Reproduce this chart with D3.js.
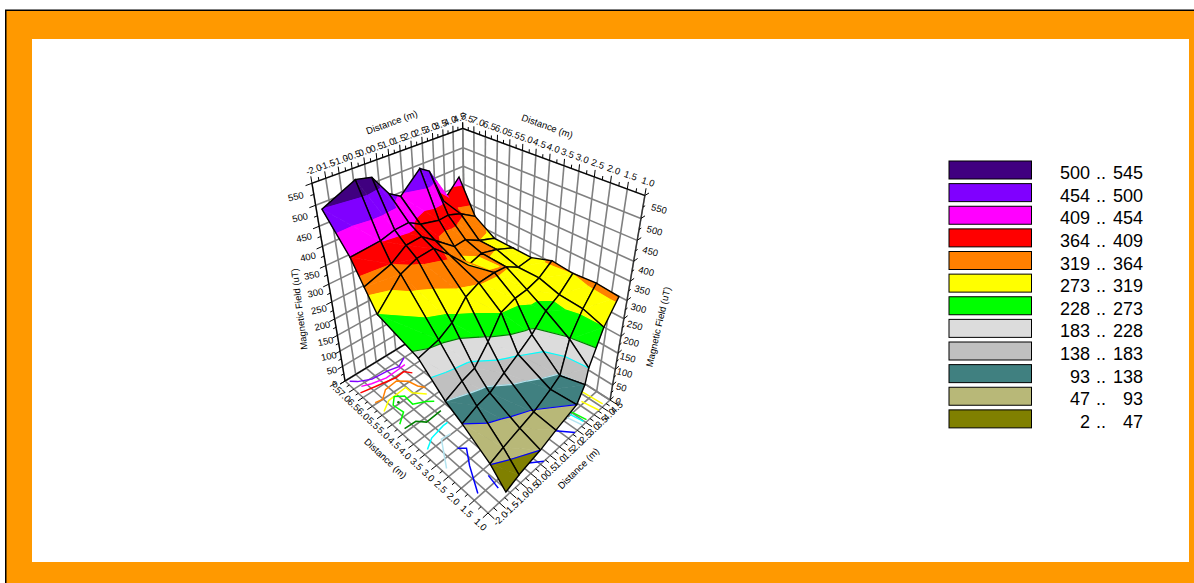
<!DOCTYPE html>
<html>
<head>
<meta charset="utf-8">
<script src="https://cdn.jsdelivr.net/npm/d3@7"></script>
<style>
  html, body { margin: 0; padding: 0; background: #ffffff; }
  svg { display: block; }
  text { font-family: "Liberation Sans", Arial, sans-serif; fill: #000000; }
</style>
</head>
<body>
<svg id="chart" width="1194" height="583"></svg>
<script>

// Legend bands, top to bottom
var bandLows    = [500, 454, 409, 364, 319, 273, 228, 183, 138, 93, 47, 2];
var bandHighs   = [545, 500, 454, 409, 364, 319, 273, 228, 183, 138, 93, 47];
var bandColours = ["#400080", "#8000ff", "#ff00ff", "#ff0000", "#ff8000", "#ffff00",
                   "#00ff00", "#dcdcdc", "#c0c0c0", "#408080", "#b8b878", "#808000"];

// Contour levels on the surface, and the colour of the line at each
var levels       = [500, 454, 409, 364, 319, 273, 228, 183, 138, 93, 47];
var levelColours = ["#8000ff", "#ff00ff", "#ff0000", "#ff8000", "#ffff00", "#00ff00",
                    "#008000", "#00ffff", "#b4e4f0", "#0000ff", "#0000ff"];

// Axis ticks
var xTicks = d3.range(-2, 4.51, 0.5);
var yTicks = d3.range(1, 7.51, 0.5);
var zTicks = d3.range(0, 551, 50);

// Mesh nodes
var xFront = [-1.16, -0.56, 0.46, 1.22, 2.28, 2.62, 2.71, 3.28, 3.93];
var xMid   = [-1.03, -0.38, 0.21, 0.86, 1.51, 2.16, 2.81, 3.46, 4.11];
var xBack  = [-2.00, -0.64, 0.02, 0.67, 1.19, 2.16, 2.62, 3.30, 4.16];
var yLeft  = [1.03, 1.67, 2.79, 3.30, 4.19, 5.75, 6.04, 6.33, 7.19];
var yRight = [1.00, 1.78, 2.63, 3.41, 4.19, 4.97, 5.77, 6.66, 7.41];

// Magnetic field (uT) at each node
var fieldRows = [
  [ 10,  28,  47,  68,  93, 138, 183, 273, 330],
  [ 48,  62,  77,  90, 117, 135, 225, 285, 330],
  [ 93, 115, 127, 158, 186, 217, 260, 283, 320],
  [138, 160, 170, 218, 275, 288, 290, 300, 325],
  [220, 235, 258, 305, 322, 325, 322, 300, 305],
  [273, 350, 375, 385, 355, 305, 325, 319, 305],
  [340, 365, 395, 400, 375, 335, 340, 320, 305],
  [409, 412, 420, 420, 400, 385, 385, 370, 340],
  [500, 535, 525, 470, 450, 498, 481, 384, 430]
];

// Contour lines on the floor, [x, y] in metres
var floorPurple  = [[-1.88, 7.38], [-1.67, 7.19], [-1.19, 6.95], [-0.48, 6.89], [-0.02, 6.78], [0.44, 6.99]];
var floorMagenta = [[-1.71, 6.93], [-1.35, 6.79], [-0.75, 6.66], [-0.11, 6.69], [0.23, 6.72]];
var floorRed     = [[-1.93, 6.72], [-1.30, 6.60], [-0.46, 6.45], [-0.05, 6.49], [0.15, 6.24]];
var floorOrange  = [[-1.82, 6.06], [-1.53, 6.00], [-1.15, 6.27], [-0.57, 6.32], [-0.25, 6.04], [-0.15, 5.67], [0.01, 5.44]];
var floorYellowA = [[-1.84, 5.58], [-1.40, 5.83], [-0.53, 5.89], [-0.53, 5.57], [-0.17, 5.20]];
var floorYellowB = [[4.09, 1.92], [4.15, 1.07]];
var floorYellowC = [[3.69, 1.59], [3.80, 1.00]];
var floorLimeA   = [[-0.20, 4.81], [-0.43, 4.98], [-0.87, 5.19], [-0.83, 5.63], [-1.13, 5.84], [-1.42, 5.58], [-1.35, 5.14], [-1.80, 4.85]];
var floorLimeB   = [[3.00, 1.65], [3.12, 1.05]];
var floorGreen   = [[-1.80, 4.62], [-1.30, 4.60], [-1.05, 4.35], [-0.33, 4.38]];
var floorCyanA   = [[-1.80, 3.58], [-1.38, 3.80], [-0.73, 3.90], [-0.52, 3.90]];
var floorCyanB   = [[2.87, 1.65], [2.98, 1.07]];
var floorPaleA   = [[-1.84, 2.73], [-1.17, 3.57], [-0.79, 3.53]];
var floorPaleB   = [[2.68, 1.59], [2.82, 1.02]];
var floorBlueA   = [[-1.03, 3.01], [-0.81, 2.83], [-1.22, 2.35], [-1.75, 1.58]];
var floorBlueB   = [[-1.04, 1.77], [-1.15, 1.31]];
var floorBlueC   = [[1.93, 1.45], [2.37, 1.00]];
var floorBlueD   = [[0.20, 1.29], [0.67, 1.00]];
var floorSpot    = [-1.19, 5.56];

var floorContours = [
  [floorPurple, "#8000ff"], [floorMagenta, "#ff00ff"], [floorRed, "#ff0000"], [floorOrange, "#ff8000"],
  [floorYellowA, "#ffff00"], [floorYellowB, "#ffff00"], [floorYellowC, "#ffff00"],
  [floorLimeA, "#00ff00"], [floorLimeB, "#00ff00"], [floorGreen, "#008000"],
  [floorCyanA, "#00ffff"], [floorCyanB, "#00ffff"], [floorPaleA, "#b4e4f0"], [floorPaleB, "#b4e4f0"],
  [floorBlueA, "#0000ff"], [floorBlueB, "#0000ff"], [floorBlueC, "#0000ff"], [floorBlueD, "#0000ff"]
];

var svg = d3.select("#chart");

// Frame
svg.append("rect").attr("x", 5).attr("y", 9.5).attr("width", 1189).attr("height", 574).attr("fill", "#000000");
svg.append("rect").attr("x", 6.5).attr("y", 11).attr("width", 1188).attr("height", 572).attr("fill", "#ff9900");
svg.append("rect").attr("x", 32).attr("y", 39).attr("width", 1157).attr("height", 523).attr("fill", "#ffffff");

// Data to unit cube
var xScale = d3.scaleLinear().domain([-2, 4.5]).range([0, 1]);
var yScale = d3.scaleLinear().domain([1, 7.5]).range([0, 1]);
var zScale = d3.scaleLinear().domain([0, 550]).range([0, 1]);

/*
 * Perspective view of the unit cube, set up from the image of its
 * nearest floor corner and the vanishing points of its three axes.
 */
var corner  = [488, 513];
var vanishU = [1189, -136];
var vanishV = [-189, -112];
var vanishT = [478, 1176];
var weightU = 0.2108;
var weightV = 0.2677;
var weightT = -0.2525;

function project(u, v, t) {
  var w = 1 + weightU * u + weightV * v + weightT * t;
  return [
    (corner[0] + weightU * u * vanishU[0] + weightV * v * vanishV[0] + weightT * t * vanishT[0]) / w,
    (corner[1] + weightU * u * vanishU[1] + weightV * v * vanishV[1] + weightT * t * vanishT[1]) / w
  ];
}

function projectData(p) {
  return project(xScale(p.x), yScale(p.y), zScale(p.z));
}

function projectFloor(p) {
  return project(xScale(p[0]), yScale(p[1]), 0);
}

var line       = d3.line();
var closedLine = d3.line().curve(d3.curveLinearClosed);

function drawLine(parent, from, to, colour, width) {
  parent.append("path")
    .attr("d", line([from, to]))
    .attr("fill", "none")
    .attr("stroke", colour)
    .attr("stroke-width", width);
}

// Walls and floor grid
var grid = svg.append("g");
var gridColour = "#808080";
var gridWidth  = 1.6;

xTicks.forEach(function(x) {
  var u = xScale(x);
  drawLine(grid, project(u, 0, 0), project(u, 1, 0), gridColour, gridWidth);
  drawLine(grid, project(u, 1, 0), project(u, 1, 1), gridColour, gridWidth);
});
yTicks.forEach(function(y) {
  var v = yScale(y);
  drawLine(grid, project(0, v, 0), project(1, v, 0), gridColour, gridWidth);
  drawLine(grid, project(1, v, 0), project(1, v, 1), gridColour, gridWidth);
});
zTicks.forEach(function(z) {
  var t = zScale(z);
  drawLine(grid, project(0, 1, t), project(1, 1, t), gridColour, gridWidth);
  drawLine(grid, project(1, 1, t), project(1, 0, t), gridColour, gridWidth);
});

// Box edges
var edgeWidth = 1.2;
drawLine(grid, project(0, 1, 1), project(1, 1, 1), "#000000", edgeWidth);
drawLine(grid, project(1, 1, 1), project(1, 0, 1), "#000000", edgeWidth);
drawLine(grid, project(0, 1, 0), project(0, 1, 1), "#000000", edgeWidth);
drawLine(grid, project(1, 0, 0), project(1, 0, 1), "#333333", edgeWidth);
drawLine(grid, project(0, 1, 0), project(1, 1, 0), "#000000", edgeWidth);

// Tick marks. Major ticks on the labelled values, minor ones between.
var ticks = svg.append("g");

function drawTicks(values, step, mark) {
  values.forEach(function(val, i) {
    mark(val, 1);
    if (i < values.length - 1) { mark(val + step / 2, 0.55); }
  });
}

drawTicks(xTicks, 0.5, function(x, len) {
  var u = xScale(x);
  drawLine(ticks, project(u, 1, 1), project(u, 1, 1 + 0.028 * len), "#000000", 1);
  drawLine(ticks, project(u, 0, 0), project(u, -0.035 * len, 0), "#000000", 1);
});
drawTicks(yTicks, 0.5, function(y, len) {
  var v = yScale(y);
  drawLine(ticks, project(1, v, 1), project(1, v, 1 + 0.028 * len), "#000000", 1);
  drawLine(ticks, project(0, v, 0), project(-0.035 * len, v, 0), "#000000", 1);
});
drawTicks(zTicks, 50, function(z, len) {
  var t = zScale(z);
  drawLine(ticks, project(0, 1, t), project(-0.035 * len, 1, t), "#000000", 1);
  drawLine(ticks, project(1, 0, t), project(1 + 0.035 * len, 0, t), "#000000", 1);
});

// Tick labels
var labels = svg.append("g").attr("font-size", 9.5);

function drawLabel(pos, dx, dy, angle, str) {
  var x = pos[0] + dx;
  var y = pos[1] + dy;
  labels.append("text")
    .attr("transform", "translate(" + x + "," + y + ") rotate(" + angle + ")")
    .attr("text-anchor", "middle")
    .attr("dominant-baseline", "middle")
    .text(str);
}

var fmt = function(val) { return val.toFixed(1); };

xTicks.forEach(function(x) {
  var u = xScale(x);
  drawLabel(project(u, 1, 1), 2 - 5 * u, -13 + 3 * u, -20, fmt(x));
  drawLabel(project(u, 0, 0), 13 - 6 * u, 6 + 2 * u, -43, fmt(x));
});
yTicks.forEach(function(y) {
  var v = yScale(y);
  drawLabel(project(1, v, 1), 3 + 1 * v, -13 + 3 * v, 20, fmt(y));
  drawLabel(project(0, v, 0), -8 - 2 * v, 12 - 5 * v, 43, fmt(y));
});
zTicks.forEach(function(z) {
  var t = zScale(z);
  drawLabel(project(0, 1, t), -10 - 6 * t, 4 + 10 * t, -12, String(z));
  drawLabel(project(1, 0, t), 8 + 6 * t, 2 + 12 * t, 15, String(z));
});

// Axis titles
drawLabel([392, 123], 0, 0, -20, "Distance (m)");
drawLabel([547, 127], 0, 0, 20, "Distance (m)");
drawLabel([385, 459], 0, 0, 43, "Distance (m)");
drawLabel([579, 469], 0, 0, -45, "Distance (m)");
drawLabel([300, 309], 0, 0, -97, "Magnetic Field (uT)");
drawLabel([659, 327], 0, 0, -77, "Magnetic Field (uT)");

// Contours on the floor, underneath everything else
var floorLines = svg.append("g");

floorLines.selectAll("path")
  .data(floorContours)
  .enter()
  .append("path")
  .attr("d", function(c) { return line(c[0].map(projectFloor)); })
  .attr("fill", "none")
  .attr("stroke", function(c) { return c[1]; })
  .attr("stroke-width", 1.5);

floorLines.append("circle")
  .attr("cx", projectFloor(floorSpot)[0])
  .attr("cy", projectFloor(floorSpot)[1])
  .attr("r", 1.3)
  .attr("fill", "#008000");

// Mesh nodes in data units
function nodeX(i, j) {
  if (j === 0) { return xFront[i]; }
  if (j === 1) { return (xFront[i] + xMid[i]) / 2; }
  return xMid[i] + (xBack[i] - xMid[i]) * (j - 2) / 6;
}

var nodes = fieldRows.map(function(row, j) {
  return row.map(function(z, i) {
    return {
      x: nodeX(i, j),
      y: yLeft[j] + (yRight[j] - yLeft[j]) * i / 8,
      z: z
    };
  });
});

function mix(a, b, z) {
  var f = (z - a.z) / (b.z - a.z);
  return { x: a.x + (b.x - a.x) * f, y: a.y + (b.y - a.y) * f, z: z };
}

/*
 * Cut a polygon down to the part on one side of the
 * height z. sign is 1 to keep above, -1 to keep below.
 */
function clipAt(poly, z, sign) {
  var out = [];
  poly.forEach(function(p, k) {
    var q   = poly[(k + 1) % poly.length];
    var pIn = sign * (p.z - z) >= 0;
    var qIn = sign * (q.z - z) >= 0;
    if (pIn) { out.push(p); }
    if (pIn !== qIn) { out.push(mix(p, q, z)); }
  });
  return out;
}

// The piece of a triangle where the surface crosses a height
function crossing(tri, z) {
  var pts = [];
  tri.forEach(function(p, k) {
    var q = tri[(k + 1) % 3];
    if ((p.z >= z) !== (q.z >= z)) { pts.push(mix(p, q, z)); }
  });
  return pts.length === 2 ? pts : null;
}

// Each mesh cell is two triangles
var cells = [];
d3.range(8).forEach(function(j) {
  d3.range(8).forEach(function(i) {
    var a = nodes[j][i], b = nodes[j][i + 1], c = nodes[j + 1][i + 1], d = nodes[j + 1][i];
    cells.push({ i: i, j: j, outline: [a, b, c, d], tris: [[a, b, d], [b, c, d]] });
  });
});

// Surface, painted from the far corner to the near one
var surface = svg.append("g");
cells.sort(function(a, b) { return (b.i + b.j) - (a.i + a.j); });

cells.forEach(function(cell) {
  var g = surface.append("g");

  cell.tris.forEach(function(tri) {
    bandLows.forEach(function(low, k) {
      var poly = clipAt(clipAt(tri, low, 1), bandHighs[k], -1);
      if (poly.length > 2) {
        g.append("path")
          .attr("d", closedLine(poly.map(projectData)))
          .attr("fill", bandColours[k])
          .attr("stroke", bandColours[k])
          .attr("stroke-width", 0.6);
      }
    });
  });

  cell.tris.forEach(function(tri) {
    levels.forEach(function(level, k) {
      var seg = crossing(tri, level);
      if (seg) {
        g.append("path")
          .attr("d", line(seg.map(projectData)))
          .attr("fill", "none")
          .attr("stroke", levelColours[k])
          .attr("stroke-width", 1.2);
      }
    });
  });

  g.append("path")
    .attr("d", closedLine(cell.outline.map(projectData)))
    .attr("fill", "none")
    .attr("stroke", "#000000")
    .attr("stroke-width", 1.4);
});

// Legend
var rowScale = d3.scaleBand()
  .domain(d3.range(bandLows.length))
  .range([160, 431.5]);

var legend = svg.append("g").attr("font-size", 18);

var rows = legend.selectAll("g")
  .data(bandLows)
  .enter()
  .append("g")
  .attr("transform", function(low, i) { return "translate(0," + rowScale(i) + ")"; });

rows.append("rect")
  .attr("x", 949)
  .attr("y", 1)
  .attr("width", 82.5)
  .attr("height", 18)
  .attr("fill", function(low, i) { return bandColours[i]; })
  .attr("stroke", "#000000")
  .attr("stroke-width", 1);

rows.append("text")
  .attr("x", 1090)
  .attr("y", 19)
  .attr("text-anchor", "end")
  .text(function(low) { return low; });

rows.append("text")
  .attr("x", 1096)
  .attr("y", 19)
  .text("..");

rows.append("text")
  .attr("x", 1143)
  .attr("y", 19)
  .attr("text-anchor", "end")
  .text(function(low, i) { return bandHighs[i]; });

</script>
</body>
</html>
